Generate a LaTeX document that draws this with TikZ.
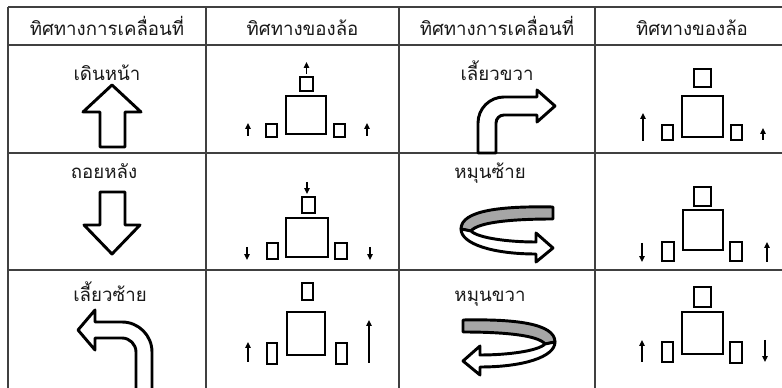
\documentclass[tikz,border=0pt]{standalone}
\usepackage{fontspec}
\newfontfamily\thaifont[Script=Thai]{Loma}
\usetikzlibrary{arrows.meta}
\begin{document}
\begin{tikzpicture}[x=0.75pt,y=-0.75pt,
  gridline/.style={draw=black!75, line width=0.85pt},
  bigshape/.style={draw=black, line width=2.2pt, line join=round, fill=white},
  ribbon/.style={draw=black, line width=2.2pt, line join=round, fill=black!35},
  wheel/.style={draw=black, line width=1.9pt},
  sarr/.style={draw=black, line width=1.1pt, -{Triangle[length=4.4pt,width=4pt]}},
  lbl/.style={font=\thaifont\fontsize{14}{16}\selectfont, anchor=base, inner sep=0pt, text=black!90}]
\useasboundingbox (0,0) rectangle (782,388);
\clip (0,0) rectangle (782,388);
\fill[white] (0,0) rectangle (782,388);
% grid
\foreach \gx in {8,206,399,595} \draw[gridline] (\gx,7) -- (\gx,395);
\foreach \gy in {7,45,153,270} \draw[gridline] (8,\gy) -- (790,\gy);
% header
\node[lbl] (h1) at (107,36) {ทิศทางการเคลื่อนที่};
\node[lbl] (h2) at (302.5,36) {ทิศทางของล้อ};
\node[lbl] (h3) at (497,36) {ทิศทางการเคลื่อนที่};
\node[lbl] (h4) at (692,36) {ทิศทางของล้อ};
% labels
\node[lbl] (t1) at (107,81) {เดินหน้า};
\node[lbl] (t2) at (104,179) {ถอยหลัง};
\node[lbl] (t3) at (110,302) {เลี้ยวซ้าย};
\node[lbl] (t4) at (497,81) {เลี้ยวขวา};
\node[lbl] (t5) at (490,179) {หมุนซ้าย};
\node[lbl] (t6) at (490,302) {หมุนขวา};
% up arrow
\draw[bigshape] (100,147) -- (100,112) -- (83,112) -- (112,85) -- (141,112) -- (125,112) -- (125,147) -- cycle;
% down arrow
\draw[bigshape] (100,192) -- (125,192) -- (125,225) -- (140,225) -- (112,254) -- (84,225) -- (100,225) -- cycle;
% left turn
\draw[bigshape] (78,330) -- (95,310) -- (95,322) -- (122,322) .. controls (138.6,322) and (152,335.4) .. (152,352) -- (152,395) -- (136,395) -- (136,352) .. controls (136,344.3) and (129.7,338) .. (122,338) -- (95,338) -- (95,350) -- cycle;
% right turn
\draw[bigshape] (478,153) -- (478,123) .. controls (478,108.6) and (489.6,97) .. (504,97) -- (537,97) -- (537,90) -- (555,106) -- (537,122) -- (537,115) -- (504,115) .. controls (499.6,115) and (496,118.6) .. (496,123) -- (496,153) -- cycle;
% rotate left (mirrored)
\begin{scope}[shift={(553,207)}, xscale=-1]
  \draw[ribbon] (0,0) .. controls (50,-1) and (92,3) .. (92,22) -- (82,24) .. controls (75,15) and (40,12) .. (0,12) -- cycle;
  \draw[bigshape] (92,22) .. controls (92,37) and (60,47) .. (17,47) -- (17,55) -- (0,41) -- (17,26) -- (17,35) .. controls (45,35) and (75,31) .. (82,24) -- cycle;
\end{scope}
% rotate right
\begin{scope}[shift={(463,320)}]
  \draw[ribbon] (0,0) .. controls (50,-1) and (92,3) .. (92,22) -- (82,24) .. controls (75,15) and (40,12) .. (0,12) -- cycle;
  \draw[bigshape] (92,22) .. controls (92,37) and (60,47) .. (17,47) -- (17,55) -- (0,41) -- (17,26) -- (17,35) .. controls (45,35) and (75,31) .. (82,24) -- cycle;
\end{scope}
% wheels col2 row1
\draw[wheel] (286,96) rectangle (326,134);
\draw[wheel] (300,77) rectangle (313,91);
\draw[wheel] (266,124) rectangle (277,137);
\draw[wheel] (334,124) rectangle (345,137);
\draw[sarr] (306.5,74) -- (306.5,62);
\draw[sarr] (248,136) -- (248,123);
\draw[sarr] (367,136) -- (367,123);
% col2 row2
\draw[wheel] (286,218) rectangle (328,257);
\draw[wheel] (302,197) rectangle (315,213);
\draw[wheel] (267,243) rectangle (278,259);
\draw[wheel] (335,243) rectangle (347,259);
\draw[sarr] (307,182) -- (307,194);
\draw[sarr] (247,247) -- (247,260);
\draw[sarr] (370,247) -- (370,260);
% col2 row3
\draw[wheel] (287,312) rectangle (325,355);
\draw[wheel] (302,283) rectangle (313,300);
\draw[wheel] (267,343) rectangle (277,364);
\draw[wheel] (336,343) rectangle (347,364);
\draw[sarr] (248,362) -- (248,342);
\draw[sarr] (369,363) -- (369,320);
% col4 row1
\draw[wheel] (682,96) rectangle (723,137);
\draw[wheel] (694,69) rectangle (711,87);
\draw[wheel] (662,125) rectangle (673,140);
\draw[wheel] (731,125) rectangle (742,140);
\draw[sarr] (643,141) -- (643,113);
\draw[sarr] (763,140) -- (763,128);
% col4 row2
\draw[wheel] (683,210) rectangle (723,250);
\draw[wheel] (694,187) rectangle (711,206);
\draw[wheel] (662,242) rectangle (674,261);
\draw[wheel] (730,242) rectangle (742,261);
\draw[sarr] (642,243) -- (642,262);
\draw[sarr] (767,262) -- (767,242);
% col4 row3
\draw[wheel] (682,312) rectangle (723,354);
\draw[wheel] (694,287) rectangle (711,307);
\draw[wheel] (662,342) rectangle (673,362);
\draw[wheel] (730,342) rectangle (742,363);
\draw[sarr] (642,362) -- (642,340);
\draw[sarr] (765,340) -- (765,362);
\end{tikzpicture}
\end{document}
